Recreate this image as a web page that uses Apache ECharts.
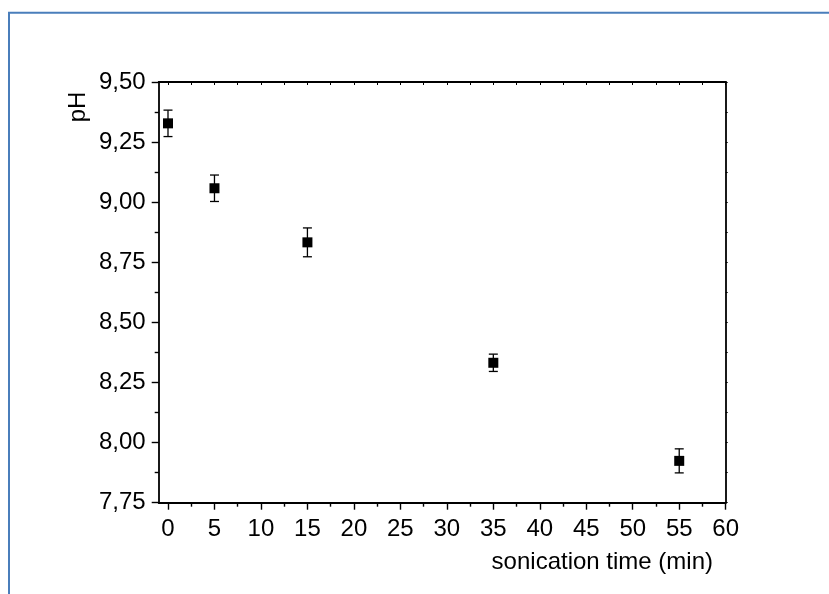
<!DOCTYPE html>
<html lang="en">
<head>
    <meta charset="UTF-8">
    <title>pH vs sonication time</title>
    <script src="https://cdn.jsdelivr.net/npm/echarts@6/dist/echarts.min.js"></script>
    <style>
        html, body { margin: 0; padding: 0; background: #fff; }
    </style>
</head>
<body>
    <div id="main" style="width: 829px;height:594px;"></div>
    <script type="text/javascript">
        // data
        var times = [0, 5, 15, 35, 55];
        var phValues = [9.328, 9.058, 8.833, 8.332, 7.924];
        var phErrors = [0.055, 0.055, 0.06, 0.036, 0.05];
        var xLabels = [0, 5, 10, 15, 20, 25, 30, 35, 40, 45, 50, 55, 60];
        var xMinor = [2.5, 7.5, 12.5, 17.5, 22.5, 27.5, 32.5, 37.5, 42.5, 47.5, 52.5, 57.5];

        var font = 'Liberation Sans, Arial, sans-serif';
        var fs = 24;

        var points = [];
        var bars = [];
        for (var i = 0; i < times.length; i++) {
            points.push([times[i], phValues[i]]);
            bars.push([times[i], phValues[i] - phErrors[i], phValues[i] + phErrors[i]]);
        }

        var myChart = echarts.init(document.getElementById('main'));

        var axisLine = { show: true, onZero: false, lineStyle: { color: '#000', width: 1.8 } };

        var option = {
            animation: false,
            backgroundColor: '#fff',
            grid: { left: 158.7, top: 82, right: 103.3, bottom: 91.3, containLabel: false, outerBoundsMode: 'none' },
            xAxis: [{
                type: 'value', min: -1, max: 60, position: 'bottom',
                axisLine: axisLine,
                axisTick: { show: true, length: 7, customValues: xLabels, lineStyle: { color: '#000', width: 1.4 } },
                axisLabel: { customValues: xLabels, margin: 15, fontSize: fs, fontFamily: font, color: '#000' },
                splitLine: { show: false }
            }, {
                // minor ticks on the bottom
                type: 'value', min: -1, max: 60, position: 'bottom',
                axisLine: { show: false, onZero: false },
                axisTick: { show: true, length: 4, customValues: xMinor, lineStyle: { color: '#000', width: 1.4 } },
                axisLabel: { show: false },
                splitLine: { show: false }
            }, {
                // top frame
                type: 'value', min: -1, max: 60, position: 'top',
                axisLine: axisLine,
                axisTick: { show: true, inside: true, length: 3, customValues: xLabels.concat(xMinor), lineStyle: { color: '#000', width: 1 } },
                axisLabel: { show: false },
                splitLine: { show: false }
            }],
            yAxis: [{
                type: 'value', min: 7.75, max: 9.5, interval: 0.25, position: 'left',
                axisLine: axisLine,
                axisTick: { show: true, length: 7, lineStyle: { color: '#000', width: 1.4 } },
                minorTick: { show: true, splitNumber: 2, length: 4, lineStyle: { color: '#000', width: 1.4 } },
                axisLabel: {
                    margin: 13, fontSize: fs, fontFamily: font, color: '#000',
                    formatter: function (v) { return v.toFixed(2).replace('.', ','); }
                },
                splitLine: { show: false }
            }, {
                // right frame
                type: 'value', min: 7.75, max: 9.5, interval: 0.125, position: 'right',
                axisLine: axisLine,
                axisTick: { show: true, length: 2, lineStyle: { color: '#000', width: 1 } },
                axisLabel: { show: false },
                splitLine: { show: false }
            }],
            graphic: [
                { type: 'line', shape: { x1: 8, y1: 12.7, x2: 829, y2: 12.7 }, style: { stroke: '#4a7ebb', lineWidth: 2 } },
                { type: 'line', shape: { x1: 9, y1: 12, x2: 9, y2: 594 }, style: { stroke: '#4a7ebb', lineWidth: 2 } },
                {
                    type: 'text', x: 78, y: 107, rotation: Math.PI / 2,
                    style: { text: 'pH', font: fs + 'px ' + font, fill: '#000', textAlign: 'center', textVerticalAlign: 'middle' }
                },
                {
                    type: 'text', x: 713, y: 562,
                    style: { text: 'sonication time (min)', font: fs + 'px ' + font, fill: '#000', textAlign: 'right', textVerticalAlign: 'middle' }
                }
            ],
            series: [{
                type: 'custom',
                xAxisIndex: 0, yAxisIndex: 0,
                data: bars,
                renderItem: function (params, api) {
                    var x = api.value(0);
                    var lo = api.coord([x, api.value(1)]);
                    var hi = api.coord([x, api.value(2)]);
                    var hw = 4.5;
                    var st = { stroke: '#000', lineWidth: 1.3 };
                    return {
                        type: 'group',
                        children: [
                            { type: 'line', shape: { x1: lo[0], y1: lo[1], x2: hi[0], y2: hi[1] }, style: st },
                            { type: 'line', shape: { x1: lo[0] - hw, y1: lo[1], x2: lo[0] + hw, y2: lo[1] }, style: st },
                            { type: 'line', shape: { x1: hi[0] - hw, y1: hi[1], x2: hi[0] + hw, y2: hi[1] }, style: st }
                        ]
                    };
                },
                z: 2
            }, {
                type: 'scatter',
                xAxisIndex: 0, yAxisIndex: 0,
                data: points,
                symbol: 'rect',
                symbolSize: 10,
                itemStyle: { color: '#000', opacity: 1 },
                z: 3
            }]
        };
        myChart.setOption(option);
    </script>
</body>
</html>
